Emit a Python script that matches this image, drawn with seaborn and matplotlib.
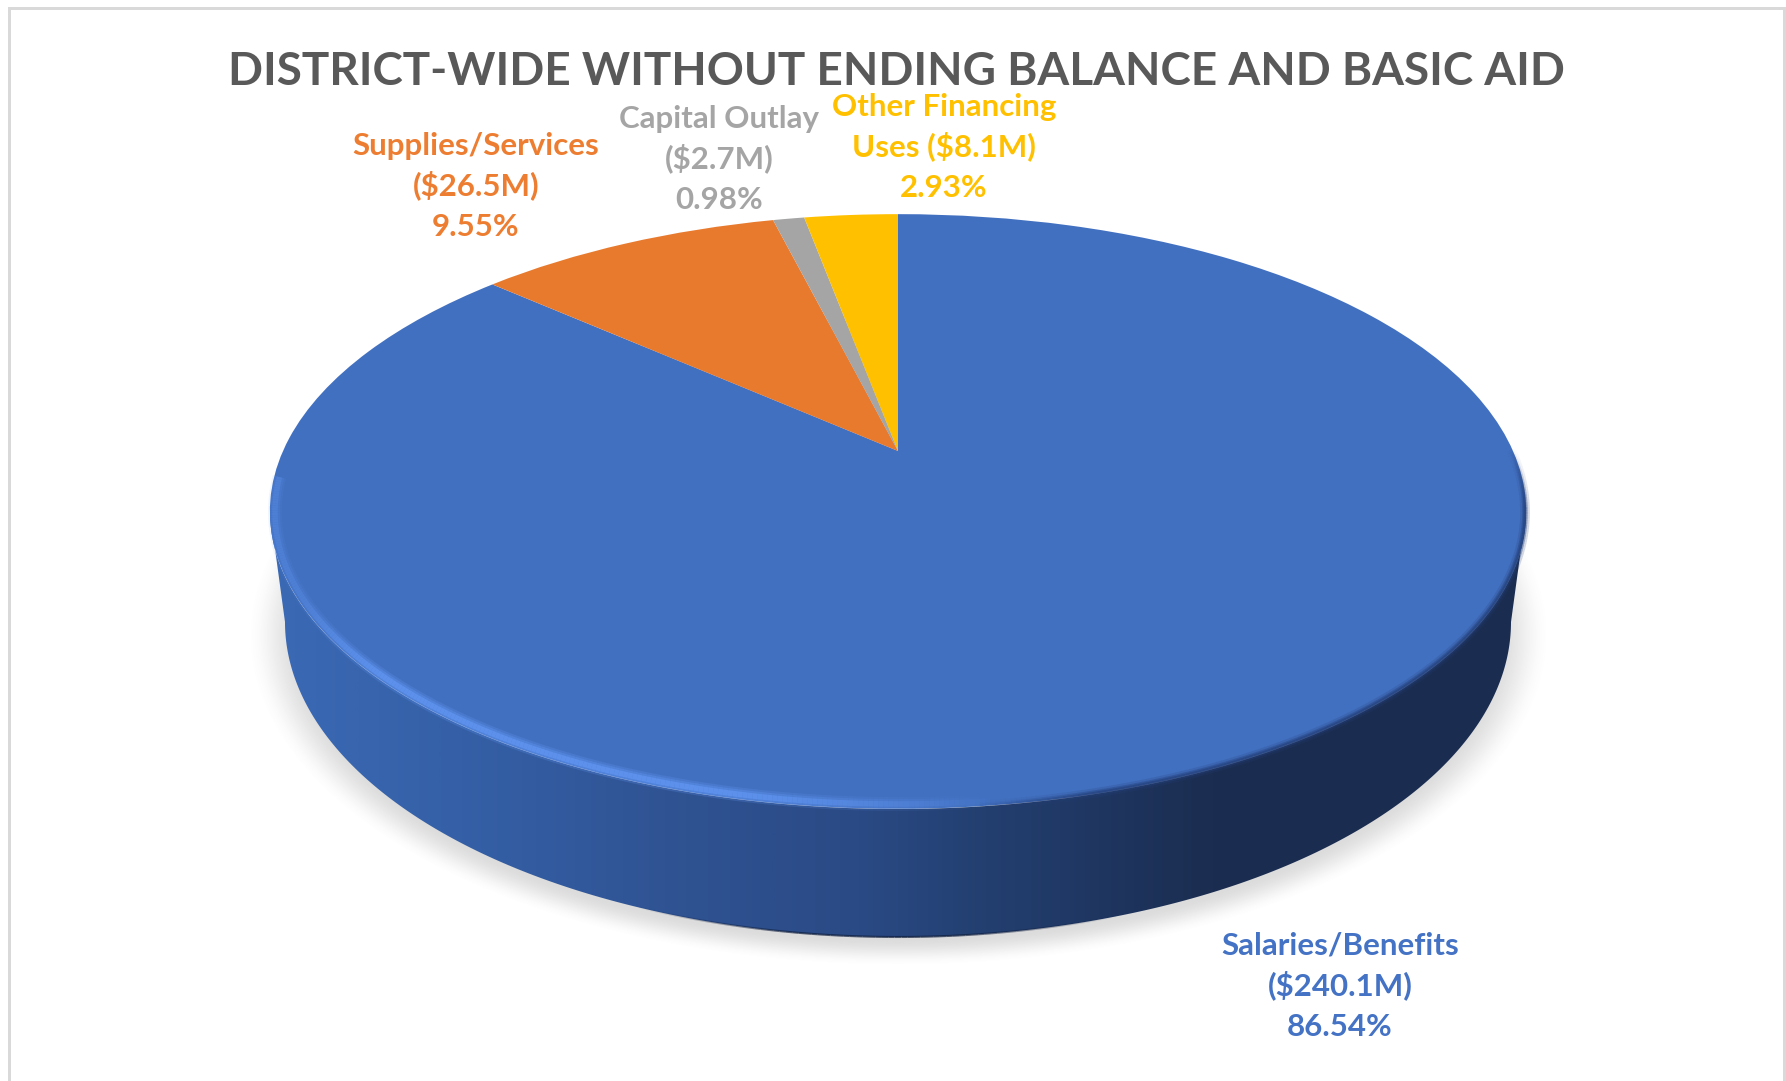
import numpy as np
import seaborn as sns
import matplotlib
matplotlib.use('Agg')
import matplotlib.pyplot as plt
from matplotlib.collections import LineCollection
from matplotlib.colors import LinearSegmentedColormap, to_rgb
from matplotlib.patches import Polygon, Rectangle
from matplotlib.transforms import Transform

# данные с картинки
categories = ['Salaries/Benefits', 'Supplies/Services', 'Capital Outlay', 'Other Financing Uses']
amounts = ['$240.1M', '$26.5M', '$2.7M', '$8.1M']
percents = [86.54, 9.55, 0.98, 2.93]
colors = ['#4270C0', '#E87A2E', '#A5A5A5', '#FFC000']
text_colors = ['#4472C4', '#ED7D31', '#A5A5A5', '#FFC000']
title = 'DISTRICT-WIDE WITHOUT ENDING BALANCE AND BASIC AID'

WIDTH, HEIGHT = 1786, 1081
CX, APEX_Y = 898, 451
PERSP_K, PERSP_A, PERSP_B = 0.2033, 285, 615


class Perspective(Transform):
    """Круг пирога -> наклонный вид (центр смещён от центра эллипса)."""
    input_dims = output_dims = 2
    is_affine = False
    has_inverse = False

    def transform_non_affine(self, values):
        u, v = values[:, 0], values[:, 1]
        d = 1 + PERSP_K * v
        return np.column_stack([CX + PERSP_B * u / d, APEX_Y - PERSP_A * v / d])


def arc_segments(t, rx, ry, cy):
    # дуга эллипса как отрезки для LineCollection
    x = CX + rx * np.cos(t)
    y = cy + ry * np.sin(t)
    pts = np.column_stack([x, y]).reshape(-1, 1, 2)
    return np.concatenate([pts[:-1], pts[1:]], axis=1), x[:-1]


sns.set_theme(style='white')
plt.rcParams['font.family'] = ['Lato', 'DejaVu Sans']

fig = plt.figure(figsize=(WIDTH / 100, HEIGHT / 100), dpi=100)
ax = fig.add_axes([0, 0, 1, 1])

persp = Perspective()

# мягкая тень под пирогом
xx, yy = np.meshgrid(np.arange(WIDTH), np.arange(HEIGHT))
dist = np.sqrt(((xx - CX) / 652) ** 2 + ((yy - 635) / 331) ** 2)
fade = np.clip((1 - dist) / 0.085, 0, 1)
fade = fade * fade * (3 - 2 * fade)
shadow = np.zeros((HEIGHT, WIDTH, 4))
shadow[..., :3] = 0.45
shadow[..., 3] = 0.25 * fade
ax.imshow(shadow, extent=(0, WIDTH, HEIGHT, 0), aspect='auto', zorder=1)

# боковая стенка: низ эллипса с горизонтальным градиентом
theta = np.linspace(0, np.pi, 300)
top_x = CX + 628 * np.cos(theta)
top_y = 512 + 297 * np.sin(theta)
bot_x = CX + 613 * np.cos(theta)
bot_y = 622 + 315 * np.sin(theta)
wall = np.vstack([np.column_stack([top_x[::-1], top_y[::-1]]), np.column_stack([bot_x, bot_y])])

wall_stops = [(0.0, '#3B69B4'), (0.15, '#3560A7'), (0.33, '#2F5291'), (0.47, '#2A4A85'),
              (0.57, '#233F70'), (0.66, '#1F3661'), (0.75, '#1B2D50'), (1.0, '#1A2C4F')]
wall_cmap = LinearSegmentedColormap.from_list('wall', wall_stops)
gradient = np.linspace(0, 1, 600).reshape(1, -1)
im = ax.imshow(gradient, cmap=wall_cmap, extent=(270, 1527, 950, 500), aspect='auto', zorder=2)
wall_patch = Polygon(wall, closed=True, transform=ax.transData)
im.set_clip_path(wall_patch)

# тёмная линия по низу стенки спереди
bot_segs, bot_mid = arc_segments(np.linspace(0, np.pi, 300), 613, 315, 622)
bot_col = np.zeros((len(bot_segs), 4))
bot_col[:, :3] = to_rgb('#0F1E3C')
bot_col[:, 3] = 0.7 * np.clip((bot_mid - 640) / 160, 0, 1) * np.clip((1120 - bot_mid) / 160, 0, 1)
ax.add_collection(LineCollection(bot_segs, colors=bot_col, linewidths=1.5, zorder=2.5))

# верх пирога
wedges, _ = ax.pie(percents, colors=colors, startangle=90, counterclock=False,
                   wedgeprops={'linewidth': 0})
for w in wedges:
    w.set_transform(persp + ax.transData)
    w.set_zorder(3)

# блик по краю верхней грани
light_segs, light_mid = arc_segments(np.linspace(0, np.pi + 0.12, 400), 623, 292, 512)
light = np.zeros((len(light_segs), 4))
light[:, :3] = to_rgb('#5F94F0')
light[:, 3] = np.clip((1000 - light_mid) / 260, 0, 1) * np.clip((light_mid - 262) / 120, 0.35, 1)
for lw, mul in [(10, 0.25), (7, 0.4), (4, 0.8)]:
    c = light.copy()
    c[:, 3] *= mul
    ax.add_collection(LineCollection(light_segs, colors=c, linewidths=lw, zorder=4))

# тёмная размытая кромка справа
dark_t = np.linspace(-0.22, np.pi, 400)
dark_segs, dark_mid = arc_segments(dark_t, 627, 296, 512)
dark = np.zeros((len(dark_segs), 4))
dark[:, :3] = to_rgb('#24407A')
dark[:, 3] = np.clip((dark_mid - 980) / 120, 0, 1) * np.clip((dark_t[:-1] + 0.22) / 0.2, 0, 1)
for lw, mul in [(7, 0.2), (4, 0.4), (2, 0.6)]:
    c = dark.copy()
    c[:, 3] *= mul
    ax.add_collection(LineCollection(dark_segs, colors=c, linewidths=lw, zorder=4))

# подписи: каждая строка отдельно, чтобы шаг строк был ровным
label_lines = [
    [categories[0], f'({amounts[0]})', f'{percents[0]:.2f}%'],
    [categories[1], f'({amounts[1]})', f'{percents[1]:.2f}%'],
    [categories[2], f'({amounts[2]})', f'{percents[2]:.2f}%'],
    ['Other Financing', f'Uses ({amounts[3]})', f'{percents[3]:.2f}%'],
]
label_x = [1340, 476, 719, 944]
label_y = [955, 155, 128, 116]
LINE_GAP = 40.5
for lines, x, y, col in zip(label_lines, label_x, label_y, text_colors):
    for i, line in enumerate(lines):
        ax.text(x, y + i * LINE_GAP, line, color=col, fontsize=22.5, fontweight='bold',
                ha='center', va='baseline', parse_math=False, zorder=5)

ax.text(896, 72, title, color='#595959', fontsize=33, fontweight='bold',
        ha='center', va='center', zorder=5)

# рамка диаграммы (снизу её нет)
frame = '#D9D9D9'
ax.add_patch(Rectangle((8, 7), WIDTH - 8, 3, color=frame, lw=0, zorder=0))
ax.add_patch(Rectangle((8, 7), 3, HEIGHT - 7, color=frame, lw=0, zorder=0))
ax.add_patch(Rectangle((WIDTH - 3, 7), 3, HEIGHT - 7, color=frame, lw=0, zorder=0))

ax.set_aspect('auto')
ax.set_xlim(0, WIDTH)
ax.set_ylim(HEIGHT, 0)
ax.axis('off')

fig.savefig('out.png', dpi=100, facecolor='white')
plt.close(fig)
